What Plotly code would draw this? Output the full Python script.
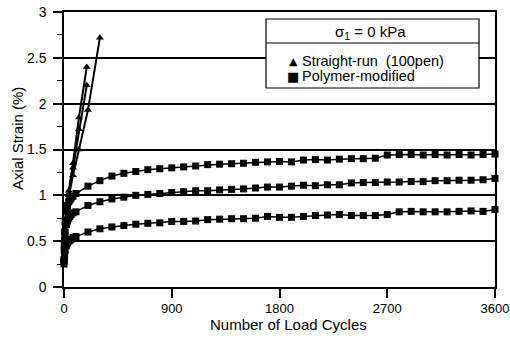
import plotly.graph_objects as go

# ---------------- data ----------------
poly_cycles = [0, 2, 5, 10, 20, 30, 40, 50, 60, 75,
               100, 200, 300, 400, 500, 600, 700, 800, 900, 1000,
               1100, 1200, 1300, 1400, 1500, 1600, 1700, 1800, 1900, 2000,
               2100, 2200, 2300, 2400, 2500, 2600, 2700, 2800, 2900, 3000,
               3100, 3200, 3300, 3400, 3500, 3600]

poly_high = [0.30, 0.45, 0.60, 0.72, 0.83, 0.89, 0.93, 0.95, 0.97, 0.99,
             1.02, 1.10, 1.16, 1.21, 1.24, 1.26, 1.28, 1.29, 1.30, 1.31,
             1.32, 1.335, 1.34, 1.345, 1.35, 1.36, 1.365, 1.37, 1.365, 1.385,
             1.39, 1.385, 1.395, 1.40, 1.40, 1.405, 1.44, 1.445, 1.445, 1.44,
             1.445, 1.44, 1.445, 1.44, 1.445, 1.45]

poly_mid = [0.28, 0.40, 0.50, 0.60, 0.68, 0.72, 0.75, 0.77, 0.79, 0.81,
            0.82, 0.89, 0.93, 0.96, 0.98, 1.00, 1.01, 1.02, 1.03, 1.04,
            1.05, 1.05, 1.06, 1.065, 1.07, 1.08, 1.09, 1.09, 1.10, 1.11,
            1.105, 1.115, 1.115, 1.135, 1.14, 1.14, 1.145, 1.145, 1.15, 1.15,
            1.16, 1.16, 1.165, 1.165, 1.17, 1.185]

poly_low = [0.25, 0.30, 0.35, 0.40, 0.45, 0.48, 0.50, 0.51, 0.52, 0.54,
            0.55, 0.60, 0.635, 0.655, 0.67, 0.685, 0.695, 0.70, 0.715, 0.715,
            0.72, 0.735, 0.74, 0.745, 0.745, 0.75, 0.77, 0.76, 0.76, 0.77,
            0.78, 0.785, 0.79, 0.78, 0.78, 0.78, 0.79, 0.82, 0.825, 0.82,
            0.82, 0.82, 0.825, 0.83, 0.825, 0.845]

sr_a_cycles = [0, 5, 10, 20, 40, 75, 125, 200, 300]
sr_a = [0.30, 0.55, 0.70, 0.85, 1.00, 1.22, 1.50, 1.93, 2.72]
sr_b_cycles = [0, 5, 10, 20, 40, 75, 125, 190]
sr_b = [0.30, 0.58, 0.72, 0.88, 1.05, 1.35, 1.85, 2.40]
sr_c_cycles = [0, 5, 10, 20, 40, 75, 125, 190]
sr_c = [0.30, 0.56, 0.70, 0.86, 1.02, 1.30, 1.72, 2.20]

x_ticks = [0, 900, 1800, 2700, 3600]
y_ticks = [0, 0.5, 1, 1.5, 2, 2.5, 3]
y_tick_text = ["0", "0.5", "1", "1.5", "2", "2.5", "3"]

legend_title = "σ<sub>1</sub> = 0 kPa"
legend_sr = "Straight-run  (100pen)"
legend_pm = "Polymer-modified"

FONT = "Liberation Sans, Arial, Helvetica, sans-serif"

fig = go.Figure()

for xs, ys in [(poly_cycles, poly_high), (poly_cycles, poly_mid), (poly_cycles, poly_low)]:
    fig.add_trace(go.Scatter(
        x=xs, y=ys, mode="lines+markers",
        line=dict(color="black", width=1.5),
        marker=dict(symbol="square", size=7, color="black"),
        cliponaxis=False, showlegend=False))

for xs, ys in [(sr_a_cycles, sr_a), (sr_b_cycles, sr_b), (sr_c_cycles, sr_c)]:
    fig.add_trace(go.Scatter(
        x=xs, y=ys, mode="lines+markers",
        line=dict(color="black", width=2),
        marker=dict(symbol="triangle-up", size=7, color="black"),
        cliponaxis=False, showlegend=False))

L, R, T, B = 64, 15, 12, 56
W, H = 510, 343
pw, ph = W - L - R, H - T - B


def px(xp):
    return (xp - L) / pw


def py(yp):
    return (H - B - yp) / ph


fig.update_layout(
    width=W, height=H,
    margin=dict(l=L, r=R, t=T, b=B, autoexpand=False),
    paper_bgcolor="white", plot_bgcolor="white",
    font=dict(family=FONT, color="black", size=14),
    xaxis=dict(
        range=[0, 3600], tickvals=x_ticks,
        showgrid=False, zeroline=False,
        showline=True, linecolor="black", linewidth=1.5, mirror=True,
        ticks="outside", ticklen=9, tickwidth=1.5, tickcolor="black",
        tickfont=dict(size=13, family=FONT),
    ),
    yaxis=dict(
        range=[0, 3], tickvals=y_ticks, ticktext=y_tick_text,
        showgrid=True, gridcolor="black", gridwidth=1.5, zeroline=False,
        showline=True, linecolor="black", linewidth=1.5, mirror=True,
        ticks="outside", ticklen=9, tickwidth=1.5, tickcolor="black",
        ticklabelstandoff=4,
        minor=dict(dtick=0.25, ticks="outside", ticklen=5, tickwidth=1.2, tickcolor="black", showgrid=False),
        tickfont=dict(size=14, family=FONT),
    ),
    showlegend=False,
)

# axis titles
fig.add_annotation(text="Number of Load Cycles", xref="paper", yref="paper",
                   x=px(288), y=py(324), showarrow=False, xanchor="center", yanchor="middle",
                   font=dict(size=15, family=FONT))
fig.add_annotation(text="Axial Strain (%)", xref="paper", yref="paper",
                   x=px(17), y=py(139), showarrow=False, xanchor="center", yanchor="middle",
                   textangle=-90, font=dict(size=15, family=FONT))

# legend box
fig.add_shape(type="rect", xref="paper", yref="paper",
              x0=px(266), x1=px(479), y0=py(88), y1=py(19),
              line=dict(color="black", width=1.2), fillcolor="white", layer="above")
fig.add_shape(type="line", xref="paper", yref="paper",
              x0=px(266), x1=px(479), y0=py(43), y1=py(43),
              line=dict(color="black", width=1.2), layer="above")
fig.add_annotation(text=legend_title, xref="paper", yref="paper",
                   x=px(370), y=py(32), showarrow=False, xanchor="center", yanchor="middle",
                   font=dict(size=15, family=FONT))
fig.add_annotation(text="▲", xref="paper", yref="paper",
                   x=px(293), y=py(61), showarrow=False, xanchor="center", yanchor="middle",
                   font=dict(size=11, family="DejaVu Sans"))
fig.add_annotation(text="■", xref="paper", yref="paper",
                   x=px(293), y=py(76), showarrow=False, xanchor="center", yanchor="middle",
                   font=dict(size=13, family="DejaVu Sans"))
fig.add_annotation(text=legend_sr, xref="paper", yref="paper",
                   x=px(300), y=py(61), showarrow=False, xanchor="left", yanchor="middle",
                   font=dict(size=14.5, family=FONT))
fig.add_annotation(text=legend_pm, xref="paper", yref="paper",
                   x=px(300), y=py(76), showarrow=False, xanchor="left", yanchor="middle",
                   font=dict(size=14.5, family=FONT))

fig.write_html("out.html")
